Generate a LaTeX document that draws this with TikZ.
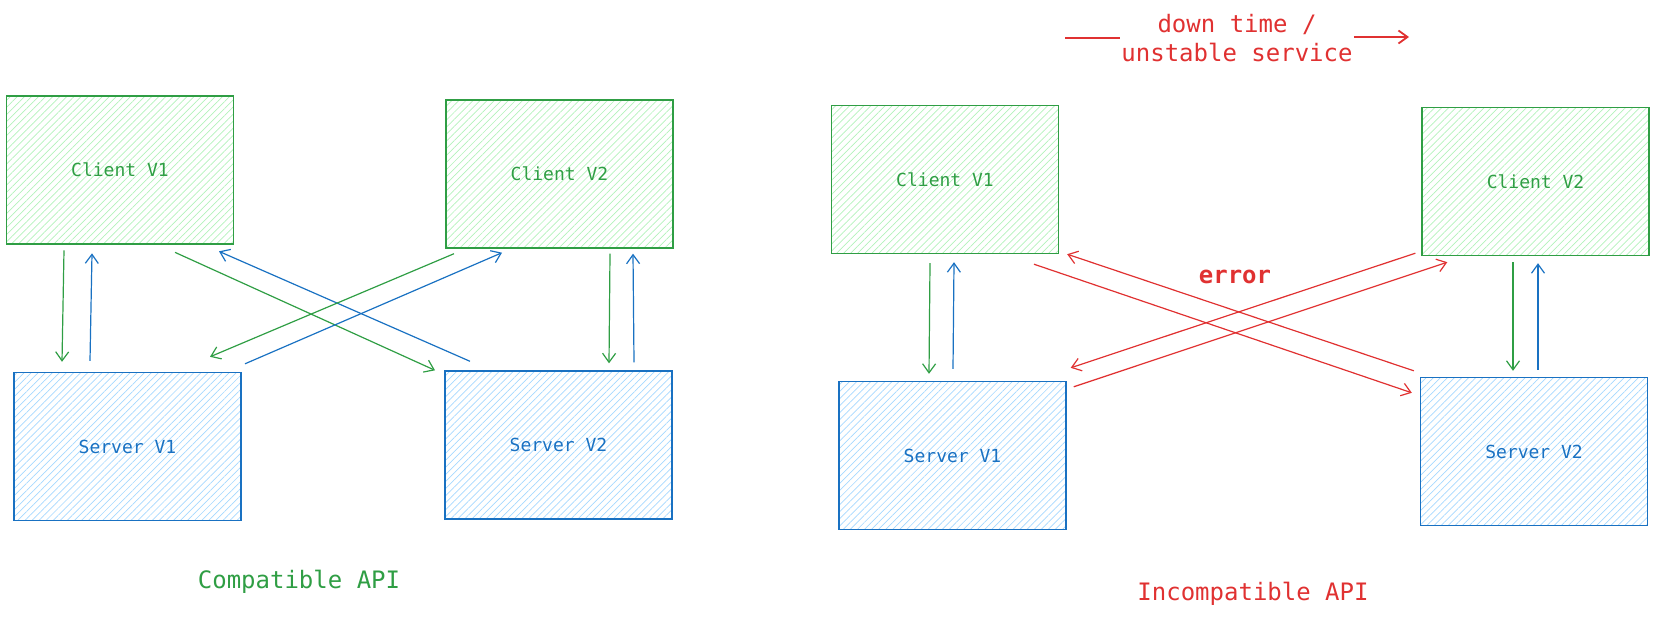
\documentclass[tikz,border=0pt]{standalone}
\usepackage{fontspec}
\setmonofont{DejaVu Sans Mono}
\usetikzlibrary{arrows.meta,patterns.meta}
\definecolor{cgreen}{HTML}{2F9E44}
\definecolor{cgreenfill}{HTML}{B2F2BB}
\definecolor{sblue}{HTML}{1971C2}
\definecolor{sbluefill}{HTML}{A5D8FF}
\definecolor{ered}{HTML}{E03131}

\begin{document}
\begin{tikzpicture}[x=1pt,y=-1pt,>={Straight Barb[length=9pt,width=13pt]}]
	\tikzstyle{cnode}=[draw=cgreen, line width=1.4pt, shape=rectangle, minimum width=227pt, minimum height=148pt, inner sep=0pt, pattern={Lines[angle=45,distance=5pt,line width=0.7pt]}, pattern color=cgreenfill, text=cgreen, font=\ttfamily\fontsize{18}{22}\selectfont];
	\tikzstyle{snode}=[cnode, draw=sblue, pattern color=sbluefill, text=sblue];
	\tikzstyle{tnode}=[font=\ttfamily\fontsize{24}{29}\selectfont, inner sep=1pt, align=center];
	\tikzstyle{garr}=[->, draw=cgreen, line width=1.2pt];
	\tikzstyle{barr}=[->, draw=sblue, line width=1.2pt];
	\tikzstyle{rarr}=[->, draw=ered, line width=1.2pt];

	\useasboundingbox (0,0) rectangle (1656,616);

	% compatible API
	\node[cnode] (c1) at (120,170) {Client V1};
	\node[cnode] (c2) at (559.5,174) {Client V2};
	\node[snode] (s1) at (127.5,446.5) {Server V1};
	\node[snode] (s2) at (558.5,445) {Server V2};
	\node[tnode, text=cgreen] (compat) at (299,582) {Compatible API};

	\draw[garr] ([shift={(-56,6)}]c1.south) -- ([shift={(-65.5,-10)}]s1.north);
	\draw[barr] ([shift={(-37.5,-11)}]s1.north) -- ([shift={(-28,9)}]c1.south);
	\draw[garr] ([shift={(55,8)}]c1.south) -- ([shift={(-123.5,0)}]s2.north);
	\draw[barr] ([shift={(-88.5,-9)}]s2.north) -- ([shift={(99,7)}]c1.south);
	\draw[garr] ([shift={(-105.5,5)}]c2.south) -- ([shift={(82.5,-15)}]s1.north);
	\draw[barr] ([shift={(117.5,-8)}]s1.north) -- ([shift={(-57.5,4)}]c2.south);
	\draw[garr] ([shift={(50.5,5)}]c2.south) -- ([shift={(50.5,-7)}]s2.north);
	\draw[barr] ([shift={(75.5,-8)}]s2.north) -- ([shift={(73.5,5)}]c2.south);

	% incompatible API
	\node[cnode] (rc1) at (945,179.5) {Client V1};
	\node[cnode] (rc2) at (1535.5,181.5) {Client V2};
	\node[snode] (rs1) at (952.5,455.5) {Server V1};
	\node[snode] (rs2) at (1534,451.5) {Server V2};
	\node[tnode, text=ered] (incompat) at (1253,594) {Incompatible API};
	\node[tnode, text=ered, font=\ttfamily\bfseries\fontsize{24}{29}\selectfont] (err) at (1235,277) {error};

	\draw[garr] ([shift={(-15,9)}]rc1.south) -- ([shift={(-23.5,-7)}]rs1.north);
	\draw[barr] ([shift={(0.5,-12)}]rs1.north) -- ([shift={(9,8)}]rc1.south);
	\draw[rarr] ([shift={(89,10)}]rc1.south) -- ([shift={(-8,16)}]rs2.north west);
	\draw[rarr] ([shift={(-6,-6)}]rs2.north west) -- ([shift={(8,0)}]rc1.south east);
	\draw[rarr] ([shift={(-6,-3)}]rc2.south west) -- ([shift={(4,-13)}]rs1.north east);
	\draw[rarr] ([shift={(7,6)}]rs1.north east) -- ([shift={(26,6)}]rc2.south west);
	\draw[garr] ([shift={(-22.5,6)}]rc2.south) -- ([shift={(-21,-6)}]rs2.north);
	\draw[barr] ([shift={(4,-7)}]rs2.north) -- ([shift={(2.5,7)}]rc2.south);

	% down time
	\node[tnode, text=ered] (down) at (1237,38.5) {down time /\\unstable service};
	\coordinate (dl) at (1065,38);
	\coordinate (dr) at (1409,37);
	\draw[ered, line width=1.8pt] (dl) -- (down.west |- dl);
	\draw[->, ered, line width=1.8pt] (down.east |- dr) -- (dr);
\end{tikzpicture}
\end{document}
